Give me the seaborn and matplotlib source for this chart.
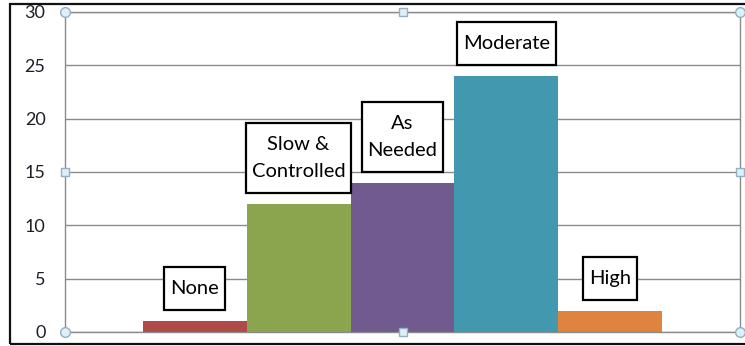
import matplotlib
matplotlib.use("Agg")
import matplotlib.pyplot as plt
from matplotlib.patches import Rectangle
import seaborn as sns
import pandas as pd

# Pace categories and their counts
categories = ["None", "Slow &\nControlled", "As\nNeeded", "Moderate", "High"]
counts = [1, 12, 14, 24, 2]
bar_colors = ["#AE4A48", "#8AA54D", "#715A8D", "#4298AF", "#DE843E"]
y_ticks = [0, 5, 10, 15, 20, 25, 30]

df = pd.DataFrame({"category": categories, "count": counts})

sns.set_theme(style="white")
plt.rcParams["font.family"] = ["Lato", "DejaVu Sans"]

W, H = 745, 346
fig = plt.figure(figsize=(W / 100, H / 100), dpi=100)
ax = fig.add_axes([65 / W, 1 - 332 / H, 675 / W, 320 / H])

sns.barplot(data=df, x="category", y="count", hue="category",
            palette=bar_colors, width=1.0, saturation=1, dodge=False,
            legend=False, ax=ax, linewidth=0)

grid_c = "#8A8A8A"
ax.set_xlim(-1.25, len(categories) + 0.25)
ax.set_ylim(0, 30)
ax.set_yticks(y_ticks)
ax.set_xticks([])
ax.set_xlabel("")
ax.set_ylabel("")
ax.yaxis.grid(True, color=grid_c, linewidth=1)
ax.set_axisbelow(True)
for s in ax.spines.values():
    s.set_visible(True)
    s.set_color(grid_c)
    s.set_linewidth(1)
ax.tick_params(axis="y", direction="out", length=6, width=1, color=grid_c,
               labelsize=13, labelcolor="#1E1E28", pad=8)

# Boxed category labels above each bar (box padding given in pixels)
pad_x, pad_y, gap = 6, 13, 11
texts = []
for i, (lab, val) in enumerate(zip(categories, counts)):
    t = ax.annotate(lab, xy=(i, val), xytext=(0, (gap + pad_y) * 0.72),
                    textcoords="offset points", ha="center", va="bottom",
                    fontsize=14.5, color="black", linespacing=1.7,
                    annotation_clip=False, zorder=6)
    texts.append(t)

fig.canvas.draw()
renderer = fig.canvas.get_renderer()
inv = ax.transData.inverted()
for t in texts:
    bb = t.get_window_extent(renderer)
    (x0, y0) = inv.transform((bb.x0 - pad_x, bb.y0 - pad_y))
    (x1, y1) = inv.transform((bb.x1 + pad_x, bb.y1 + pad_y))
    ax.add_patch(Rectangle((x0, y0), x1 - x0, y1 - y0, facecolor="white",
                           edgecolor="black", linewidth=1.6, zorder=5,
                           clip_on=False))

# Selection handles around the plot area
hc_face, hc_edge = "#DDEFF7", "#8FB0C6"
for (hx, hy) in [(0, 0), (0, 1), (1, 0), (1, 1)]:
    ax.plot(hx, hy, "o", ms=7, mfc=hc_face, mec=hc_edge, mew=1,
            transform=ax.transAxes, clip_on=False, zorder=10)
for (hx, hy) in [(0.5, 0), (0.5, 1), (0, 0.5), (1, 0.5)]:
    ax.plot(hx, hy, "s", ms=5.5, mfc=hc_face, mec=hc_edge, mew=1,
            transform=ax.transAxes, clip_on=False, zorder=10)

# Outer chart frame
fig.patches.append(Rectangle((0, 1 - 3.5 / H), 1, 3.5 / H, transform=fig.transFigure,
                             facecolor="white", edgecolor="none", zorder=5))
fig.patches.append(Rectangle((9.5 / W, 1 - 343.5 / H), 1.0, 340 / H,
                             transform=fig.transFigure, facecolor="none",
                             edgecolor="#111111", linewidth=1.6, zorder=6))

fig.savefig("out.png", dpi=100, facecolor="white")
